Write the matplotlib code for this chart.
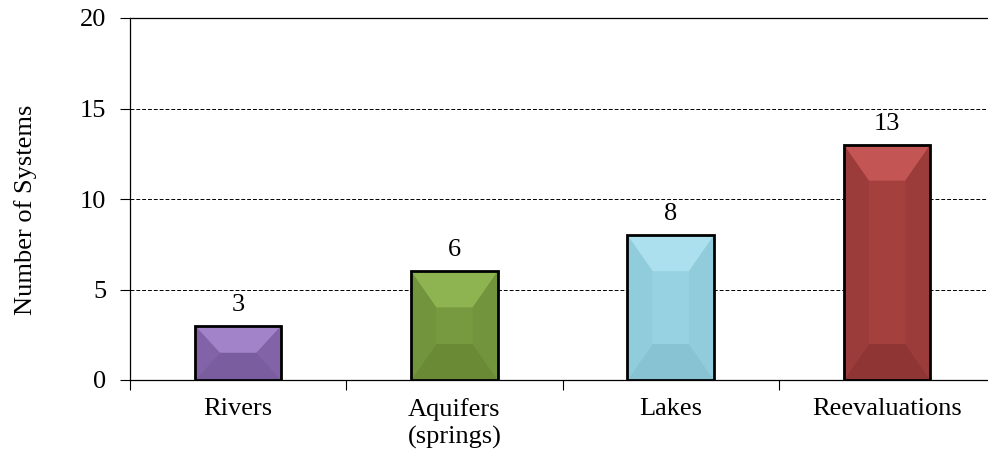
import matplotlib
matplotlib.use("Agg")
import matplotlib.pyplot as plt
from matplotlib.patches import Polygon, Rectangle
import numpy as np

categories = ["Rivers", "Aquifers\n(springs)", "Lakes", "Reevaluations"]
values = [3, 6, 8, 13]
# face, light (top), dark (bottom), side
colors = [
    ("#8768AD", "#A283C9", "#7A5D9E", "#8263A7"),
    ("#77993F", "#8EB452", "#6A8A36", "#72943C"),
    ("#96D2E2", "#ADE0EE", "#88C3D4", "#90CCDC"),
    ("#A4403E", "#C35654", "#8F3534", "#9C3C3A"),
]

plt.rcParams["font.family"] = ["Liberation Serif", "DejaVu Serif"]

fig = plt.figure(figsize=(9.88, 4.57), dpi=100)
W, H = 988, 457
left_px, bottom_px, top_px = 130, 380, 18
step_px = 216.3
ax = fig.add_axes([left_px / W, (H - bottom_px) / H, 4 * step_px / W, (bottom_px - top_px) / H])

bw = 0.40
dx = 25 / step_px          # bevel inset in x data units
dy_max = 36 / 18.1         # bevel inset in y data units

for i, (v, c) in enumerate(zip(values, colors)):
    face, light, dark, side = c
    x0, x1 = i - bw / 2, i + bw / 2
    dy = min(dy_max, v / 2)
    ax.add_patch(Rectangle((x0, 0), bw, v, facecolor=face, edgecolor="none", zorder=2))
    # top bevel
    ax.add_patch(Polygon([(x0, v), (x1, v), (x1 - dx, v - dy), (x0 + dx, v - dy)],
                         closed=True, facecolor=light, edgecolor="none", zorder=3))
    # bottom bevel
    ax.add_patch(Polygon([(x0, 0), (x1, 0), (x1 - dx, dy), (x0 + dx, dy)],
                         closed=True, facecolor=dark, edgecolor="none", zorder=3))
    # side bevels
    ax.add_patch(Polygon([(x0, 0), (x0 + dx, dy), (x0 + dx, v - dy), (x0, v)],
                         closed=True, facecolor=side, edgecolor="none", zorder=3))
    ax.add_patch(Polygon([(x1, 0), (x1 - dx, dy), (x1 - dx, v - dy), (x1, v)],
                         closed=True, facecolor=side, edgecolor="none", zorder=3))
    ax.add_patch(Rectangle((x0, 0), bw, v, facecolor="none", edgecolor="black",
                           linewidth=2.0, zorder=4))
    ax.text(i, v + 0.55, str(v), ha="center", va="bottom", fontsize=19, zorder=5)

ax.set_xlim(-0.5, 3.5)
ax.set_ylim(0, 20)

ax.set_yticks([0, 5, 10, 15, 20])
ax.tick_params(axis="y", direction="out", length=7, width=0.8, labelsize=19, pad=10)
ax.set_xticks([-0.5, 0.5, 1.5, 2.5, 3.5])
ax.set_xticklabels([])
ax.set_xticks(range(len(categories)), minor=True)
ax.set_xticklabels(categories, minor=True, fontsize=19, linespacing=1.25)
ax.tick_params(axis="x", which="major", direction="out", length=7, width=0.8)
ax.tick_params(axis="x", which="minor", length=0, pad=13)

for yv in [5, 10, 15]:
    ax.axhline(yv, color="black", linestyle=(0, (4, 2)), linewidth=0.7, zorder=1)

ax.spines["right"].set_visible(False)
for s in ["left", "bottom", "top"]:
    ax.spines[s].set_linewidth(0.9)

fig.text(26 / W, 1 - 210 / H, "Number of Systems", rotation=90, ha="center", va="center",
         fontsize=19)

fig.savefig("out.png", dpi=100)
